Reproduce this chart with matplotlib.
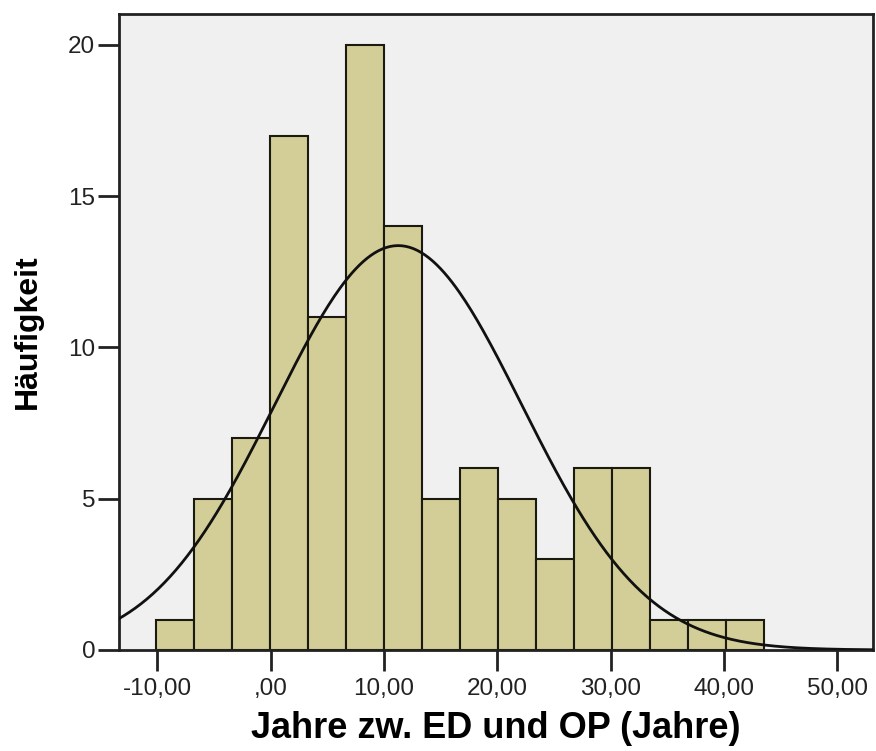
import numpy as np
import matplotlib
matplotlib.use("Agg")
from matplotlib import pyplot as plt

# Histogram of years between first diagnosis and operation
counts = [1, 5, 7, 17, 11, 20, 14, 5, 6, 5, 3, 6, 6, 1, 1, 1]
bin_start = -10.1
bin_width = 3.35
mean_years = 11.25
sd_years = 10.9
xticks = [-10, 0, 10, 20, 30, 40, 50]
xtick_labels = ["-10,00", ",00", "10,00", "20,00", "30,00", "40,00", "50,00"]
yticks = [0, 5, 10, 15, 20]

plt.rcParams['font.family'] = ['Liberation Sans', 'DejaVu Sans']

fig = plt.figure(figsize=(8.76, 7.51), dpi=100)
ax = fig.add_axes([0.1358, 0.1345, 0.8607, 0.8469])
ax.set_facecolor('#f0f0f0')

edges = bin_start + bin_width * np.arange(len(counts) + 1)
ax.bar(edges[:-1], counts, width=bin_width, align='edge',
       color='#d3ce97', edgecolor='#1a1a10', linewidth=1.5, zorder=2)

# fitted normal curve scaled to the counts
n = sum(counts)
xs = np.linspace(-14, 54, 400)
ys = n * bin_width / (sd_years * np.sqrt(2 * np.pi)) * np.exp(-0.5 * ((xs - mean_years) / sd_years) ** 2)
ax.plot(xs, ys, color='#111111', linewidth=2, zorder=3)

ax.set_xlim(-13.4, 53.15)
ax.set_ylim(0, 21.02)
ax.set_xticks(xticks)
ax.set_xticklabels(xtick_labels)
ax.set_yticks(yticks)

for s in ax.spines.values():
    s.set_linewidth(2)
    s.set_color('#222222')
ax.tick_params(axis='both', direction='out', length=15, width=2, color='#222222',
               labelsize=17.5, labelcolor='#222222')
ax.tick_params(axis='x', pad=5)
ax.tick_params(axis='y', pad=2)

ax.set_xlabel('Jahre zw. ED und OP (Jahre)', fontsize=26, fontweight='bold', labelpad=8)
ax.set_ylabel('Häufigkeit', fontsize=23, fontweight='bold', labelpad=18)

fig.savefig('out.png', dpi=100)
